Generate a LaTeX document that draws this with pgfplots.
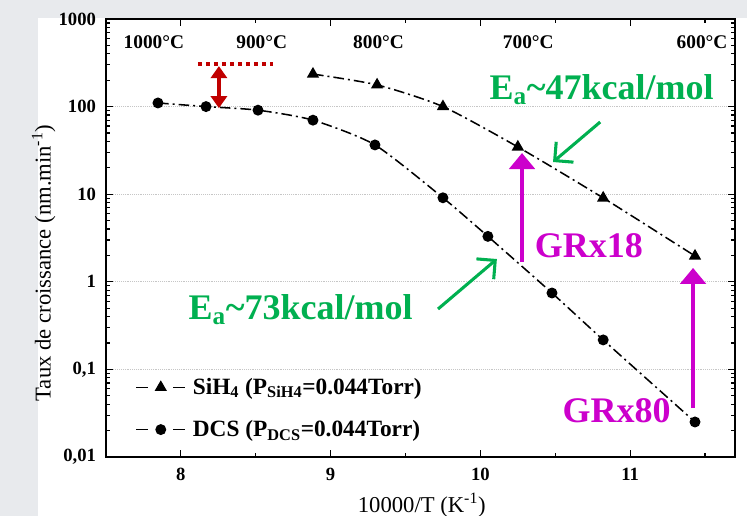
\documentclass[border=0pt]{standalone}
\usepackage{pgfplots}
\pgfplotsset{compat=1.18}
\usepackage{fontspec}
\setmainfont{Liberation Serif}
\usetikzlibrary{arrows.meta}
\definecolor{myGreen}{HTML}{00B050}
\definecolor{myMag}{HTML}{CC00CC}
\definecolor{myRed}{HTML}{C00000}
\definecolor{bgGray}{HTML}{E8EAED}
\begin{document}
\begin{tikzpicture}
\fill[bgGray] (-79.5pt,-44.25pt) rectangle (480.75pt,342.75pt);
\fill[white] (-51pt,-44.25pt) rectangle (480.75pt,329.25pt);
\useasboundingbox (-79.5pt,-44.25pt) rectangle (480.75pt,342.75pt);
\begin{axis}[
  at={(0,0)}, anchor=south west,
  scale only axis,
  width=471.75pt, height=328.5pt,
  ymode=log,
  xmin=7.5, xmax=11.7,
  ymin=0.01, ymax=1000,
  xtick={8,9,10,11},
  minor xtick={8.5,9.5,10.5,11.5},
  ytick={0.01,0.1,1,10,100,1000},
  yticklabels={{0,01},{0,1},1,10,100,1000},
  tick align=inside,
  major tick length=5pt, minor tick length=3pt,
  axis line style={line width=1.3pt},
  every tick/.style={black, line width=0.9pt},
  /pgf/number format/assume math mode=true,
  tick label style={font=\bfseries\fontsize{14}{16}\selectfont},
  xticklabel style={yshift=-5pt},
  yticklabel style={xshift=-4pt},
  ymajorgrids,
  major grid style={densely dotted, gray!45, line width=0.5pt},
  xlabel={10000/T (K\textsuperscript{-1})},
  ylabel={Taux de croissance (nm.min\textsuperscript{-1})},
  label style={font=\fontsize{17}{20}\selectfont},
  xlabel style={at={(axis description cs:0.502,-0.11)}, anchor=center},
  ylabel style={at={(axis description cs:-0.099,0.443)}, anchor=center},
  legend style={at={(axis description cs:0.042,0.029)}, anchor=south west,
    draw=none, fill=white, font=\bfseries\fontsize{17.5}{20}\selectfont,
    row sep=14pt, column sep=3pt, inner sep=2pt, cells={anchor=west}},
  legend image code/.code={
    \draw[#1,solid] (0pt,0pt) -- (9pt,0pt);
    \draw[#1,solid] (28pt,0pt) -- (37pt,0pt);
    \draw[#1] plot[only marks] coordinates {(18.5pt,0pt)};
  },
]
\addplot[black, line width=1.15pt, dash pattern=on 8pt off 3pt on 1.5pt off 3pt,
  smooth, tension=0.4, mark=triangle*, mark size=4.2pt, mark options={solid}]
  coordinates {
  (8.882,235) (9.31,177) (9.75,100) (10.25,34.6) (10.82,9.06) (11.433,1.97)
};
\addlegendentry{SiH\textsubscript{4} (P\textsubscript{SiH4}=0.044Torr)}
\addplot[black, line width=1.15pt, dash pattern=on 8pt off 3pt on 1.5pt off 3pt,
  smooth, tension=0.4, mark=*, mark size=3.5pt, mark options={solid}]
  coordinates {
  (7.847,110) (8.168,100) (8.515,91) (8.882,70) (9.296,36.5) (9.75,9.1)
  (10.05,3.3) (10.478,0.745) (10.82,0.217) (11.433,0.0251)
};
\addlegendentry{DCS (P\textsubscript{DCS}=0.044Torr)}

% temperature labels
\begin{scope}[font=\bfseries\fontsize{14.5}{16}\selectfont]
\node at (axis cs:7.82,546) {1000°C};
\node at (axis cs:8.54,546) {900°C};
\node at (axis cs:9.32,546) {800°C};
\node at (axis cs:10.32,546) {700°C};
\node at (axis cs:11.48,546) {600°C};
\end{scope}

% red annotation
\draw[myRed, line width=2.4pt, dash pattern=on 3pt off 3pt] (axis cs:8.114,306) -- (axis cs:8.615,306);
\draw[myRed, line width=2.6pt, {Triangle[length=9pt,width=12pt]}-{Triangle[length=9pt,width=12pt]}] (axis cs:8.254,290) -- (axis cs:8.254,96);

% green annotations
\node[myGreen, font=\bfseries\fontsize{27}{30}\selectfont] at (axis cs:10.81,155) {E\textsubscript{a}\textasciitilde47kcal/mol};
\draw[myGreen, line width=2.3pt, -{Straight Barb[length=10pt,width=20pt]}] (axis cs:10.80,66.7) -- (axis cs:10.485,23.3);
\node[myGreen, font=\bfseries\fontsize{27}{30}\selectfont] at (axis cs:8.80,0.476) {E\textsubscript{a}\textasciitilde73kcal/mol};
\draw[myGreen, line width=2.3pt, -{Straight Barb[length=10pt,width=20pt]}] (axis cs:9.717,0.489) -- (axis cs:10.11,1.82);

% magenta annotations
\draw[myMag, line width=3.5pt, -{Triangle[length=12pt,width=19pt]}] (axis cs:10.278,1.68) -- (axis cs:10.278,29.5);
\node[myMag, font=\bfseries\fontsize{27}{30}\selectfont] at (axis cs:10.725,2.56) {GRx18};
\draw[myMag, line width=3.5pt, -{Triangle[length=12pt,width=19pt]}] (axis cs:11.42,0.0362) -- (axis cs:11.42,1.44);
\node[myMag, font=\bfseries\fontsize{27}{30}\selectfont] at (axis cs:10.91,0.0335) {GRx80};
\end{axis}
\end{tikzpicture}
\end{document}
